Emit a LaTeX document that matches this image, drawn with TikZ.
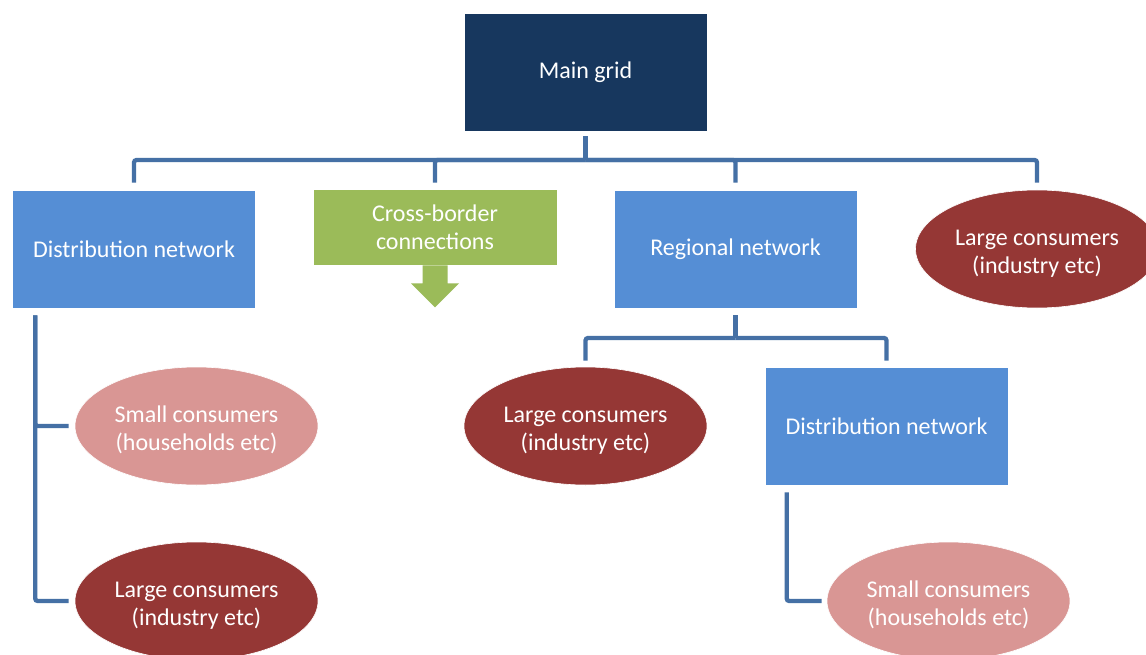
\documentclass[tikz,border=0pt]{standalone}
\usepackage{fontspec}
\setmainfont{Carlito}
\usetikzlibrary{shapes.geometric}
\definecolor{navyc}{HTML}{17375E}
\definecolor{bluec}{HTML}{558ED5}
\definecolor{greenc}{HTML}{9BBB59}
\definecolor{redc}{HTML}{953735}
\definecolor{pinkc}{HTML}{D99694}
\definecolor{connc}{HTML}{4570A5}
\newcommand\topstrut{\rule{0pt}{25pt}}
\begin{document}
\begin{tikzpicture}[x=1pt,y=-1pt,
  base/.style={inner sep=0pt, text=white, font=\fontsize{24}{28}\selectfont, align=center, draw=white, line width=0.6pt},
  box/.style={base, rectangle, minimum width=243pt, minimum height=118pt},
  oval/.style={base, ellipse, minimum width=243pt, minimum height=118pt},
  conn/.style={draw=connc, line width=4.3pt, rounded corners=2.5pt}]
\clip (0,0) rectangle (1146,655);
\fill[white] (0,0) rectangle (1146,655);

\node[box, fill=navyc] (main) at (585.5,72) {Main grid};
\node[box, fill=bluec] (dist1) at (134,249) {Distribution network};
\node[box, fill=greenc, minimum height=75pt, draw=none] (cross) at (435,227.5) {Cross-border\\connections};
\node[box, fill=bluec] (reg) at (735.5,249) {Regional network};
\node[oval, fill=redc] (lc1) at (1037,249) {\topstrut Large consumers\\(industry etc)};
\node[oval, fill=redc] (lc2) at (585.5,426) {\topstrut Large consumers\\(industry etc)};
\node[box, fill=bluec] (dist2) at (886.5,426) {Distribution network};
\node[oval, fill=pinkc] (sc1) at (196.5,426) {\topstrut Small consumers\\(households etc)};
\node[oval, fill=redc] (lc3) at (196.5,601) {\topstrut Large consumers\\(industry etc)};
\node[oval, fill=pinkc] (sc2) at (948.5,601) {\topstrut Small consumers\\(households etc)};

\fill[greenc] ([xshift=-12.5pt]cross.south) -- ++(0,18) -- ++(-11.5,0)
  -- ([yshift=-42pt]cross.south) -- ([xshift=24pt,yshift=-18pt]cross.south)
  -- ++(-11.5,0) -- ([xshift=12.5pt]cross.south) -- cycle;

\coordinate (bus) at (585.5,160);
\coordinate (bus2) at (735.5,338);

\draw[conn] ([yshift=-5pt]main.south) -- (bus);
\draw[conn] ([yshift=7pt]dist1.north) |- (bus);
\draw[conn] ([yshift=7pt]cross.north) |- (bus);
\draw[conn] ([yshift=7pt]reg.north) |- (bus);
\draw[conn] ([yshift=7pt]lc1.north) |- (bus);

\draw[conn] ([yshift=-7pt]reg.south) -- (bus2);
\draw[conn] ([yshift=6pt]lc2.north) |- (bus2);
\draw[conn] ([yshift=6pt]dist2.north) |- (bus2);

\draw[conn] ([xshift=23pt,yshift=-7pt]dist1.south west) |- ([xshift=-6pt]sc1.west);
\draw[conn] ([xshift=23pt,yshift=-7pt]dist1.south west) |- ([xshift=-6pt]lc3.west);
\draw[conn] ([xshift=22pt,yshift=-7pt]dist2.south west) |- ([xshift=-5pt]sc2.west);
\end{tikzpicture}
\end{document}
